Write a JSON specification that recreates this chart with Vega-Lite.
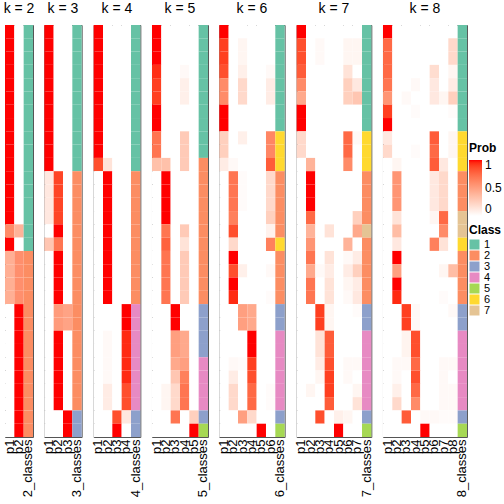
{
"$schema":"https://vega.github.io/schema/vega-lite/v6.json",
"padding":{"left":2,"top":1,"right":0,"bottom":0},
"background":"white",
"bounds":"flush",
"spacing":11.33,
"config":{
 "font":"Liberation Sans",
 "view":{"stroke":"#555","strokeWidth":1},
 "title":{"fontSize":14,"fontWeight":"normal","offset":9,"color":"#000","font":"Liberation Sans"},
 "axis":{"labelFontSize":13,"labelColor":"#000","ticks":false,"domain":false,"labelPadding":2,"title":null,"labelAngle":270,"labelOverlap":false,"labelBound":false,"labelFont":"Liberation Sans"},
 "legend":{"titleFontSize":12,"titleFontWeight":"bold","titleColor":"#000","labelFontSize":12,"labelColor":"#000","titleFont":"Liberation Sans","labelFont":"Liberation Sans"}
},
"resolve":{"scale":{"x":"independent","y":"shared","color":"shared","fill":"shared"},"legend":{"color":"shared","fill":"shared"}},
"datasets":{
"k2":[
{"s":0,"c":1,"p1":1,"p2":0},{"s":1,"c":1,"p1":1,"p2":0},{"s":2,"c":1,"p1":1,"p2":0},{"s":3,"c":1,"p1":1,"p2":0},{"s":4,"c":1,"p1":1,"p2":0},{"s":5,"c":1,"p1":1,"p2":0},{"s":6,"c":1,"p1":1,"p2":0},{"s":7,"c":1,"p1":1,"p2":0},{"s":8,"c":1,"p1":1,"p2":0},{"s":9,"c":1,"p1":1,"p2":0},{"s":10,"c":1,"p1":1,"p2":0},{"s":11,"c":1,"p1":1,"p2":0},{"s":12,"c":1,"p1":1,"p2":0},{"s":13,"c":1,"p1":1,"p2":0},{"s":14,"c":1,"p1":1,"p2":0},
{"s":15,"c":1,"p1":0.6,"p2":0.4},{"s":16,"c":1,"p1":1,"p2":0},
{"s":17,"c":2,"p1":0.42,"p2":0.58},{"s":18,"c":2,"p1":0.42,"p2":0.58},{"s":19,"c":2,"p1":0.42,"p2":0.58},{"s":20,"c":2,"p1":0.42,"p2":0.58},
{"s":21,"c":2,"p1":0,"p2":1},{"s":22,"c":2,"p1":0,"p2":1},{"s":23,"c":2,"p1":0,"p2":1},{"s":24,"c":2,"p1":0,"p2":1},{"s":25,"c":2,"p1":0,"p2":1},{"s":26,"c":2,"p1":0,"p2":1},{"s":27,"c":2,"p1":0,"p2":1},{"s":28,"c":2,"p1":0,"p2":1},{"s":29,"c":2,"p1":0,"p2":1},{"s":30,"c":2,"p1":0,"p2":1}
],
"k3":[
{"s":0,"c":1,"p1":1,"p2":0,"p3":0},{"s":1,"c":1,"p1":1,"p2":0,"p3":0},{"s":2,"c":1,"p1":1,"p2":0,"p3":0},{"s":3,"c":1,"p1":1,"p2":0,"p3":0},{"s":4,"c":1,"p1":1,"p2":0,"p3":0},{"s":5,"c":1,"p1":1,"p2":0,"p3":0},{"s":6,"c":1,"p1":1,"p2":0,"p3":0},{"s":7,"c":1,"p1":1,"p2":0,"p3":0},{"s":8,"c":1,"p1":1,"p2":0,"p3":0},{"s":9,"c":1,"p1":1,"p2":0,"p3":0},{"s":10,"c":1,"p1":1,"p2":0,"p3":0},
{"s":11,"c":2,"p1":0.12,"p2":0.88,"p3":0},{"s":12,"c":2,"p1":0.12,"p2":0.88,"p3":0},{"s":13,"c":2,"p1":0.12,"p2":0.88,"p3":0},{"s":14,"c":2,"p1":0.12,"p2":0.88,"p3":0},
{"s":15,"c":2,"p1":0,"p2":1,"p3":0},{"s":16,"c":2,"p1":0.3,"p2":0.7,"p3":0},
{"s":17,"c":2,"p1":0,"p2":1,"p3":0},{"s":18,"c":2,"p1":0,"p2":1,"p3":0},{"s":19,"c":2,"p1":0,"p2":1,"p3":0},{"s":20,"c":2,"p1":0,"p2":1,"p3":0},
{"s":21,"c":2,"p1":0,"p2":0.52,"p3":0.48},{"s":22,"c":2,"p1":0,"p2":0.52,"p3":0.48},
{"s":23,"c":2,"p1":0,"p2":1,"p3":0},{"s":24,"c":2,"p1":0,"p2":1,"p3":0},{"s":25,"c":2,"p1":0,"p2":1,"p3":0},{"s":26,"c":2,"p1":0,"p2":1,"p3":0},{"s":27,"c":2,"p1":0,"p2":1,"p3":0},{"s":28,"c":2,"p1":0,"p2":1,"p3":0},
{"s":29,"c":3,"p1":0,"p2":0,"p3":1},{"s":30,"c":3,"p1":0,"p2":0,"p3":1}
],
"k4":[
{"s":0,"c":1,"p1":1,"p2":0,"p3":0,"p4":0},{"s":1,"c":1,"p1":1,"p2":0,"p3":0,"p4":0},{"s":2,"c":1,"p1":1,"p2":0,"p3":0,"p4":0},{"s":3,"c":1,"p1":1,"p2":0,"p3":0,"p4":0},{"s":4,"c":1,"p1":1,"p2":0,"p3":0,"p4":0},{"s":5,"c":1,"p1":1,"p2":0,"p3":0,"p4":0},{"s":6,"c":1,"p1":1,"p2":0,"p3":0,"p4":0},{"s":7,"c":1,"p1":1,"p2":0,"p3":0,"p4":0},{"s":8,"c":1,"p1":1,"p2":0,"p3":0,"p4":0},{"s":9,"c":1,"p1":1,"p2":0,"p3":0,"p4":0},
{"s":10,"c":1,"p1":0.85,"p2":0.15,"p3":0,"p4":0},
{"s":11,"c":2,"p1":0,"p2":1,"p3":0,"p4":0},{"s":12,"c":2,"p1":0,"p2":1,"p3":0,"p4":0},{"s":13,"c":2,"p1":0,"p2":1,"p3":0,"p4":0},{"s":14,"c":2,"p1":0,"p2":1,"p3":0,"p4":0},{"s":15,"c":2,"p1":0,"p2":1,"p3":0,"p4":0},{"s":16,"c":2,"p1":0,"p2":1,"p3":0,"p4":0},{"s":17,"c":2,"p1":0,"p2":1,"p3":0,"p4":0},{"s":18,"c":2,"p1":0,"p2":1,"p3":0,"p4":0},{"s":19,"c":2,"p1":0,"p2":1,"p3":0,"p4":0},{"s":20,"c":2,"p1":0,"p2":1,"p3":0,"p4":0},
{"s":21,"c":4,"p1":0,"p2":0,"p3":0,"p4":1},{"s":22,"c":4,"p1":0,"p2":0,"p3":0,"p4":1},
{"s":23,"c":4,"p1":0,"p2":0.03,"p3":0,"p4":0.95},{"s":24,"c":4,"p1":0,"p2":0.03,"p3":0,"p4":0.95},{"s":25,"c":4,"p1":0,"p2":0.03,"p3":0,"p4":0.95},{"s":26,"c":4,"p1":0,"p2":0.03,"p3":0,"p4":0.95},
{"s":27,"c":4,"p1":0,"p2":0.1,"p3":0,"p4":0.85},{"s":28,"c":4,"p1":0,"p2":0.1,"p3":0,"p4":0.85},
{"s":29,"c":3,"p1":0,"p2":0,"p3":0.85,"p4":0.12},{"s":30,"c":3,"p1":0,"p2":0,"p3":1,"p4":0}
],
"k5":[
{"s":0,"c":1,"p1":1,"p2":0,"p3":0,"p4":0,"p5":0},{"s":1,"c":1,"p1":1,"p2":0,"p3":0,"p4":0,"p5":0},{"s":2,"c":1,"p1":1,"p2":0,"p3":0,"p4":0,"p5":0},
{"s":3,"c":1,"p1":0.94,"p2":0,"p3":0,"p4":0.03,"p5":0},{"s":4,"c":1,"p1":0.9,"p2":0,"p3":0,"p4":0.08,"p5":0},{"s":5,"c":1,"p1":0.9,"p2":0,"p3":0,"p4":0.08,"p5":0},
{"s":6,"c":1,"p1":1,"p2":0,"p3":0,"p4":0,"p5":0},{"s":7,"c":1,"p1":1,"p2":0,"p3":0,"p4":0,"p5":0},
{"s":8,"c":1,"p1":0.7,"p2":0,"p3":0,"p4":0.28,"p5":0},{"s":9,"c":1,"p1":0.7,"p2":0,"p3":0,"p4":0.28,"p5":0},
{"s":10,"c":2,"p1":0.33,"p2":0.33,"p3":0,"p4":0.28,"p5":0},
{"s":11,"c":2,"p1":0,"p2":1,"p3":0,"p4":0,"p5":0},{"s":12,"c":2,"p1":0,"p2":1,"p3":0,"p4":0,"p5":0},{"s":13,"c":2,"p1":0,"p2":1,"p3":0,"p4":0,"p5":0},{"s":14,"c":2,"p1":0,"p2":1,"p3":0,"p4":0,"p5":0},
{"s":15,"c":2,"p1":0,"p2":0.7,"p3":0,"p4":0.28,"p5":0},{"s":16,"c":2,"p1":0,"p2":0.78,"p3":0,"p4":0.15,"p5":0},
{"s":17,"c":2,"p1":0,"p2":0.7,"p3":0,"p4":0.28,"p5":0},{"s":18,"c":2,"p1":0,"p2":0.7,"p3":0,"p4":0.28,"p5":0},{"s":19,"c":2,"p1":0,"p2":0.7,"p3":0,"p4":0.28,"p5":0},{"s":20,"c":2,"p1":0,"p2":0.7,"p3":0,"p4":0.28,"p5":0},
{"s":21,"c":3,"p1":0,"p2":0,"p3":1,"p4":0,"p5":0},{"s":22,"c":3,"p1":0,"p2":0,"p3":1,"p4":0,"p5":0},
{"s":23,"c":3,"p1":0,"p2":0,"p3":0.5,"p4":0.45,"p5":0},{"s":24,"c":3,"p1":0,"p2":0,"p3":0.5,"p4":0.45,"p5":0},
{"s":25,"c":4,"p1":0,"p2":0,"p3":0.45,"p4":0.5,"p5":0},{"s":26,"c":4,"p1":0,"p2":0,"p3":0.3,"p4":0.65,"p5":0},
{"s":27,"c":4,"p1":0,"p2":0.05,"p3":0.2,"p4":0.7,"p5":0},{"s":28,"c":4,"p1":0,"p2":0.05,"p3":0.2,"p4":0.7,"p5":0},
{"s":29,"c":3,"p1":0,"p2":0,"p3":0.7,"p4":0,"p5":0.25},{"s":30,"c":5,"p1":0,"p2":0,"p3":0,"p4":0,"p5":1}
],
"k6":[
{"s":0,"c":1,"p1":1,"p2":0,"p3":0,"p4":0,"p5":0,"p6":0},
{"s":1,"c":1,"p1":0.9,"p2":0,"p3":0.05,"p4":0,"p5":0,"p6":0},{"s":2,"c":1,"p1":0.9,"p2":0,"p3":0.05,"p4":0,"p5":0,"p6":0},
{"s":3,"c":1,"p1":0.85,"p2":0,"p3":0.08,"p4":0,"p5":0,"p6":0.03},
{"s":4,"c":1,"p1":0.6,"p2":0,"p3":0.2,"p4":0,"p5":0,"p6":0.1},{"s":5,"c":1,"p1":0.6,"p2":0,"p3":0.2,"p4":0,"p5":0,"p6":0.1},
{"s":6,"c":1,"p1":1,"p2":0,"p3":0,"p4":0,"p5":0,"p6":0},{"s":7,"c":1,"p1":1,"p2":0,"p3":0,"p4":0,"p5":0,"p6":0},
{"s":8,"c":6,"p1":0.25,"p2":0,"p3":0.08,"p4":0,"p5":0,"p6":0.62},{"s":9,"c":6,"p1":0.25,"p2":0,"p3":0,"p4":0,"p5":0,"p6":0.62},
{"s":10,"c":6,"p1":0.1,"p2":0.03,"p3":0,"p4":0,"p5":0,"p6":0.8},
{"s":11,"c":2,"p1":0,"p2":0.7,"p3":0.02,"p4":0,"p5":0,"p6":0.2},{"s":12,"c":2,"p1":0,"p2":0.7,"p3":0.02,"p4":0,"p5":0,"p6":0.2},{"s":13,"c":2,"p1":0,"p2":0.7,"p3":0.02,"p4":0,"p5":0,"p6":0.2},
{"s":14,"c":2,"p1":0,"p2":0.65,"p3":0,"p4":0,"p5":0,"p6":0.25},{"s":15,"c":2,"p1":0,"p2":0.85,"p3":0,"p4":0,"p5":0,"p6":0.07},
{"s":16,"c":6,"p1":0,"p2":0.2,"p3":0,"p4":0,"p5":0,"p6":0.65},
{"s":17,"c":2,"p1":0,"p2":1,"p3":0,"p4":0,"p5":0,"p6":0},{"s":18,"c":2,"p1":0,"p2":0.85,"p3":0.08,"p4":0,"p5":0,"p6":0.03},
{"s":19,"c":2,"p1":0,"p2":1,"p3":0,"p4":0,"p5":0,"p6":0},{"s":20,"c":2,"p1":0,"p2":0.95,"p3":0,"p4":0,"p5":0,"p6":0.02},
{"s":21,"c":3,"p1":0,"p2":0,"p3":0.5,"p4":0.45,"p5":0,"p6":0},{"s":22,"c":3,"p1":0,"p2":0,"p3":0.5,"p4":0.45,"p5":0,"p6":0},
{"s":23,"c":4,"p1":0,"p2":0,"p3":0,"p4":1,"p5":0,"p6":0},{"s":24,"c":4,"p1":0,"p2":0,"p3":0,"p4":1,"p5":0,"p6":0},
{"s":25,"c":4,"p1":0,"p2":0.03,"p3":0.02,"p4":0.9,"p5":0,"p6":0},{"s":26,"c":4,"p1":0,"p2":0.1,"p3":0,"p4":0.85,"p5":0,"p6":0},
{"s":27,"c":4,"p1":0,"p2":0.2,"p3":0,"p4":0.75,"p5":0,"p6":0.02},{"s":28,"c":4,"p1":0,"p2":0.2,"p3":0,"p4":0.75,"p5":0,"p6":0.02},
{"s":29,"c":3,"p1":0,"p2":0,"p3":0.5,"p4":0.2,"p5":0,"p6":0},{"s":30,"c":5,"p1":0,"p2":0,"p3":0,"p4":0,"p5":1,"p6":0}
],
"k7":[
{"s":0,"c":1,"p1":1,"p2":0,"p3":0,"p4":0,"p5":0,"p6":0,"p7":0},
{"s":1,"c":1,"p1":0.85,"p2":0,"p3":0.03,"p4":0,"p5":0,"p6":0.05,"p7":0.05},{"s":2,"c":1,"p1":0.85,"p2":0,"p3":0.03,"p4":0,"p5":0,"p6":0.05,"p7":0.05},
{"s":3,"c":1,"p1":0.8,"p2":0,"p3":0,"p4":0,"p5":0,"p6":0.15,"p7":0},
{"s":4,"c":1,"p1":0.6,"p2":0,"p3":0,"p4":0,"p5":0,"p6":0.25,"p7":0.12},
{"s":5,"c":1,"p1":0.45,"p2":0,"p3":0,"p4":0,"p5":0,"p6":0.25,"p7":0.3},
{"s":6,"c":1,"p1":1,"p2":0,"p3":0,"p4":0,"p5":0,"p6":0,"p7":0},{"s":7,"c":1,"p1":1,"p2":0,"p3":0,"p4":0,"p5":0,"p6":0,"p7":0},
{"s":8,"c":6,"p1":0.2,"p2":0,"p3":0,"p4":0,"p5":0,"p6":0.75,"p7":0.03},{"s":9,"c":6,"p1":0.2,"p2":0,"p3":0,"p4":0,"p5":0,"p6":0.75,"p7":0},
{"s":10,"c":6,"p1":0,"p2":0.4,"p3":0,"p4":0,"p5":0,"p6":0.6,"p7":0},
{"s":11,"c":2,"p1":0,"p2":1,"p3":0,"p4":0,"p5":0,"p6":0,"p7":0},{"s":12,"c":2,"p1":0,"p2":1,"p3":0,"p4":0,"p5":0,"p6":0,"p7":0},{"s":13,"c":2,"p1":0,"p2":1,"p3":0,"p4":0,"p5":0,"p6":0,"p7":0},
{"s":14,"c":2,"p1":0,"p2":0.75,"p3":0,"p4":0,"p5":0,"p6":0,"p7":0.25},
{"s":15,"c":7,"p1":0,"p2":0.4,"p3":0,"p4":0.15,"p5":0,"p6":0,"p7":0.45},
{"s":16,"c":2,"p1":0,"p2":0.55,"p3":0,"p4":0,"p5":0,"p6":0.4,"p7":0},
{"s":17,"c":2,"p1":0,"p2":0.7,"p3":0,"p4":0.15,"p5":0,"p6":0.03,"p7":0.1},
{"s":18,"c":2,"p1":0,"p2":0.45,"p3":0.03,"p4":0.1,"p5":0,"p6":0.1,"p7":0.25},
{"s":19,"c":2,"p1":0,"p2":0.7,"p3":0,"p4":0.15,"p5":0,"p6":0.05,"p7":0.1},
{"s":20,"c":2,"p1":0,"p2":0.7,"p3":0,"p4":0.15,"p5":0,"p6":0.03,"p7":0.12},
{"s":21,"c":3,"p1":0,"p2":0,"p3":0.9,"p4":0.05,"p5":0,"p6":0,"p7":0.02},{"s":22,"c":3,"p1":0,"p2":0,"p3":0.9,"p4":0.05,"p5":0,"p6":0,"p7":0},
{"s":23,"c":4,"p1":0,"p2":0,"p3":0.15,"p4":0.8,"p5":0,"p6":0,"p7":0},{"s":24,"c":4,"p1":0,"p2":0,"p3":0.15,"p4":0.8,"p5":0,"p6":0,"p7":0},
{"s":25,"c":4,"p1":0,"p2":0,"p3":0.1,"p4":0.85,"p5":0,"p6":0.03,"p7":0.03},
{"s":26,"c":4,"p1":0,"p2":0,"p3":0.05,"p4":0.9,"p5":0,"p6":0.03,"p7":0},
{"s":27,"c":4,"p1":0,"p2":0.05,"p3":0,"p4":0.9,"p5":0,"p6":0,"p7":0.05},
{"s":28,"c":4,"p1":0,"p2":0,"p3":0,"p4":0.8,"p5":0,"p6":0,"p7":0.15},
{"s":29,"c":3,"p1":0,"p2":0,"p3":0.85,"p4":0,"p5":0.08,"p6":0.05,"p7":0},
{"s":30,"c":5,"p1":0,"p2":0,"p3":0,"p4":0,"p5":1,"p6":0,"p7":0}
],
"k8":[
{"s":0,"c":1,"p1":1,"p2":0,"p3":0,"p4":0,"p5":0,"p6":0,"p7":0,"p8":0},
{"s":1,"c":1,"p1":0.75,"p2":0,"p3":0,"p4":0,"p5":0,"p6":0,"p7":0,"p8":0.2},
{"s":2,"c":1,"p1":0.75,"p2":0,"p3":0,"p4":0,"p5":0,"p6":0,"p7":0,"p8":0.2},
{"s":3,"c":1,"p1":0.75,"p2":0,"p3":0,"p4":0,"p5":0,"p6":0.18,"p7":0,"p8":0.05},
{"s":4,"c":1,"p1":0.7,"p2":0,"p3":0,"p4":0.03,"p5":0,"p6":0.12,"p7":0,"p8":0.1},
{"s":5,"c":1,"p1":0.55,"p2":0,"p3":0.03,"p4":0,"p5":0,"p6":0.12,"p7":0.05,"p8":0.25},
{"s":6,"c":1,"p1":0.9,"p2":0,"p3":0,"p4":0.02,"p5":0,"p6":0,"p7":0,"p8":0.02},
{"s":7,"c":1,"p1":1,"p2":0,"p3":0,"p4":0,"p5":0,"p6":0,"p7":0,"p8":0},
{"s":8,"c":6,"p1":0.12,"p2":0,"p3":0,"p4":0,"p5":0,"p6":0.8,"p7":0,"p8":0.05},
{"s":9,"c":6,"p1":0.2,"p2":0,"p3":0,"p4":0.02,"p5":0,"p6":0.75,"p7":0,"p8":0.05},
{"s":10,"c":6,"p1":0,"p2":0.05,"p3":0,"p4":0,"p5":0,"p6":0.8,"p7":0.12,"p8":0},
{"s":11,"c":2,"p1":0,"p2":0.55,"p3":0,"p4":0,"p5":0,"p6":0.12,"p7":0.2,"p8":0},
{"s":12,"c":2,"p1":0,"p2":0.55,"p3":0,"p4":0,"p5":0,"p6":0.12,"p7":0.2,"p8":0},
{"s":13,"c":2,"p1":0,"p2":0.55,"p3":0,"p4":0,"p5":0,"p6":0.12,"p7":0.2,"p8":0},
{"s":14,"c":7,"p1":0,"p2":0.15,"p3":0,"p4":0,"p5":0,"p6":0.05,"p7":0.75,"p8":0},
{"s":15,"c":7,"p1":0,"p2":0.35,"p3":0,"p4":0,"p5":0,"p6":0,"p7":0.6,"p8":0},
{"s":16,"c":6,"p1":0,"p2":0.12,"p3":0,"p4":0,"p5":0,"p6":0.65,"p7":0.15,"p8":0},
{"s":17,"c":2,"p1":0,"p2":1,"p3":0,"p4":0,"p5":0,"p6":0,"p7":0,"p8":0},
{"s":18,"c":2,"p1":0,"p2":0.5,"p3":0,"p4":0,"p5":0,"p6":0,"p7":0.05,"p8":0.35},
{"s":19,"c":2,"p1":0,"p2":1,"p3":0,"p4":0,"p5":0,"p6":0,"p7":0,"p8":0},
{"s":20,"c":2,"p1":0,"p2":0.95,"p3":0,"p4":0,"p5":0,"p6":0,"p7":0.02,"p8":0},
{"s":21,"c":3,"p1":0,"p2":0,"p3":0.9,"p4":0.03,"p5":0,"p6":0,"p7":0,"p8":0.03},
{"s":22,"c":3,"p1":0,"p2":0,"p3":0.9,"p4":0.03,"p5":0,"p6":0,"p7":0,"p8":0},
{"s":23,"c":4,"p1":0,"p2":0,"p3":0.06,"p4":0.85,"p5":0,"p6":0,"p7":0,"p8":0},
{"s":24,"c":4,"p1":0,"p2":0,"p3":0.06,"p4":0.85,"p5":0,"p6":0,"p7":0,"p8":0},
{"s":25,"c":4,"p1":0,"p2":0.03,"p3":0.03,"p4":0.75,"p5":0,"p6":0,"p7":0.03,"p8":0.03},
{"s":26,"c":4,"p1":0,"p2":0.03,"p3":0,"p4":0.85,"p5":0,"p6":0,"p7":0.03,"p8":0},
{"s":27,"c":4,"p1":0,"p2":0.08,"p3":0,"p4":0.75,"p5":0,"p6":0,"p7":0.03,"p8":0.03},
{"s":28,"c":4,"p1":0,"p2":0.2,"p3":0,"p4":0.6,"p5":0,"p6":0,"p7":0.03,"p8":0.03},
{"s":29,"c":3,"p1":0,"p2":0,"p3":0.8,"p4":0,"p5":0.03,"p6":0.03,"p7":0.02,"p8":0.02},
{"s":30,"c":5,"p1":0,"p2":0,"p3":0,"p4":0,"p5":1,"p6":0,"p7":0,"p8":0}
]
},
"hconcat":[
{"width":28,"height":412,"title":"k = 2","layer":[
 {"data":{"name":"k2"},"transform":[{"fold":["p1","p2"],"as":["col","prob"]}],"mark":"rect","encoding":{
  "x":{"field":"col","type":"nominal","scale":{"domain":["p1","p2","2_classes"]}},
  "y":{"field":"s","type":"ordinal","axis":null,"scale":{"domain":[0,1,2,3,4,5,6,7,8,9,10,11,12,13,14,15,16,17,18,19,20,21,22,23,24,25,26,27,28,29,30]}},
  "color":{"field":"prob","type":"quantitative","title":"Prob","scale":{"domain":[0,1],"range":["#ffffff","#ff0000"],"interpolate":"lab"},"legend":{"orient":"none","legendX":464,"legendY":118,"values":[0,0.5,1],"format":"~g","gradientLength":56,"gradientThickness":13,"direction":"vertical","labelOffset":3}}}},
 {"data":{"name":"k2"},"mark":"rect","encoding":{
  "x":{"datum":"2_classes","type":"nominal","scale":{"domain":["p1","p2","2_classes"]}},
  "y":{"field":"s","type":"ordinal","axis":null,"scale":{"domain":[0,1,2,3,4,5,6,7,8,9,10,11,12,13,14,15,16,17,18,19,20,21,22,23,24,25,26,27,28,29,30]}},
  "fill":{"field":"c","type":"nominal","title":"Class","scale":{"domain":[1,2,3,4,5,6,7],"range":["#66C2A5","#FC8D62","#8DA0CB","#E78AC3","#A6D854","#FFD92F","#E5C494"]},"legend":{"orient":"none","legendX":464,"legendY":200,"symbolType":"square","symbolSize":100,"symbolStrokeWidth":0,"rowPadding":-1.3,"titlePadding":2,"labelFontSize":11,"labelOffset":4}}}}
]},
{"width":37.33,"height":412,"title":"k = 3","layer":[
 {"data":{"name":"k3"},"transform":[{"fold":["p1","p2","p3"],"as":["col","prob"]}],"mark":"rect","encoding":{
  "x":{"field":"col","type":"nominal","scale":{"domain":["p1","p2","p3","3_classes"]}},
  "y":{"field":"s","type":"ordinal","axis":null},
  "color":{"field":"prob","type":"quantitative"}}},
 {"data":{"name":"k3"},"mark":"rect","encoding":{
  "x":{"datum":"3_classes","type":"nominal","scale":{"domain":["p1","p2","p3","3_classes"]}},
  "y":{"field":"s","type":"ordinal","axis":null},
  "fill":{"field":"c","type":"nominal"}}}
]},
{"width":46.67,"height":412,"title":"k = 4","layer":[
 {"data":{"name":"k4"},"transform":[{"fold":["p1","p2","p3","p4"],"as":["col","prob"]}],"mark":"rect","encoding":{
  "x":{"field":"col","type":"nominal","scale":{"domain":["p1","p2","p3","p4","4_classes"]}},
  "y":{"field":"s","type":"ordinal","axis":null},
  "color":{"field":"prob","type":"quantitative"}}},
 {"data":{"name":"k4"},"mark":"rect","encoding":{
  "x":{"datum":"4_classes","type":"nominal","scale":{"domain":["p1","p2","p3","p4","4_classes"]}},
  "y":{"field":"s","type":"ordinal","axis":null},
  "fill":{"field":"c","type":"nominal"}}}
]},
{"width":56,"height":412,"title":"k = 5","layer":[
 {"data":{"name":"k5"},"transform":[{"fold":["p1","p2","p3","p4","p5"],"as":["col","prob"]}],"mark":"rect","encoding":{
  "x":{"field":"col","type":"nominal","scale":{"domain":["p1","p2","p3","p4","p5","5_classes"]}},
  "y":{"field":"s","type":"ordinal","axis":null},
  "color":{"field":"prob","type":"quantitative"}}},
 {"data":{"name":"k5"},"mark":"rect","encoding":{
  "x":{"datum":"5_classes","type":"nominal","scale":{"domain":["p1","p2","p3","p4","p5","5_classes"]}},
  "y":{"field":"s","type":"ordinal","axis":null},
  "fill":{"field":"c","type":"nominal"}}}
]},
{"width":65.33,"height":412,"title":"k = 6","layer":[
 {"data":{"name":"k6"},"transform":[{"fold":["p1","p2","p3","p4","p5","p6"],"as":["col","prob"]}],"mark":"rect","encoding":{
  "x":{"field":"col","type":"nominal","scale":{"domain":["p1","p2","p3","p4","p5","p6","6_classes"]}},
  "y":{"field":"s","type":"ordinal","axis":null},
  "color":{"field":"prob","type":"quantitative"}}},
 {"data":{"name":"k6"},"mark":"rect","encoding":{
  "x":{"datum":"6_classes","type":"nominal","scale":{"domain":["p1","p2","p3","p4","p5","p6","6_classes"]}},
  "y":{"field":"s","type":"ordinal","axis":null},
  "fill":{"field":"c","type":"nominal"}}}
]},
{"width":74.67,"height":412,"title":"k = 7","layer":[
 {"data":{"name":"k7"},"transform":[{"fold":["p1","p2","p3","p4","p5","p6","p7"],"as":["col","prob"]}],"mark":"rect","encoding":{
  "x":{"field":"col","type":"nominal","scale":{"domain":["p1","p2","p3","p4","p5","p6","p7","7_classes"]}},
  "y":{"field":"s","type":"ordinal","axis":null},
  "color":{"field":"prob","type":"quantitative"}}},
 {"data":{"name":"k7"},"mark":"rect","encoding":{
  "x":{"datum":"7_classes","type":"nominal","scale":{"domain":["p1","p2","p3","p4","p5","p6","p7","7_classes"]}},
  "y":{"field":"s","type":"ordinal","axis":null},
  "fill":{"field":"c","type":"nominal"}}}
]},
{"width":84,"height":412,"title":"k = 8","layer":[
 {"data":{"name":"k8"},"transform":[{"fold":["p1","p2","p3","p4","p5","p6","p7","p8"],"as":["col","prob"]}],"mark":"rect","encoding":{
  "x":{"field":"col","type":"nominal","scale":{"domain":["p1","p2","p3","p4","p5","p6","p7","p8","8_classes"]}},
  "y":{"field":"s","type":"ordinal","axis":null},
  "color":{"field":"prob","type":"quantitative"}}},
 {"data":{"name":"k8"},"mark":"rect","encoding":{
  "x":{"datum":"8_classes","type":"nominal","scale":{"domain":["p1","p2","p3","p4","p5","p6","p7","p8","8_classes"]}},
  "y":{"field":"s","type":"ordinal","axis":null},
  "fill":{"field":"c","type":"nominal"}}}
]}
]
}
